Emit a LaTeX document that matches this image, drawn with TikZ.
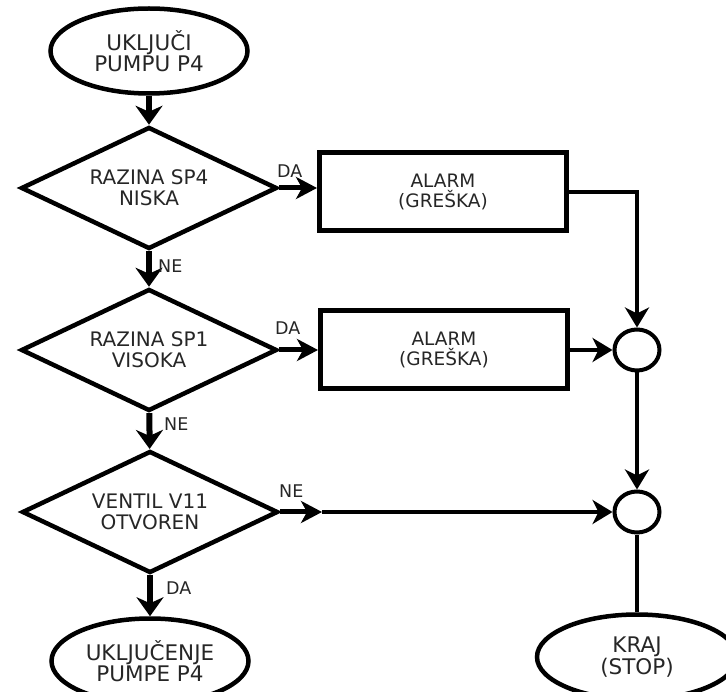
\documentclass[tikz,border=0pt]{standalone}
\usepackage{fontspec}
\setmainfont{DejaVu Sans}
\usetikzlibrary{shapes.geometric,arrows.meta}
\begin{document}
\begin{tikzpicture}[x=1pt,y=-1pt,
  txt/.style={text=black!85, align=center},
  term/.style={ellipse, draw, line width=4.5pt, minimum width=197pt, minimum height=85pt, inner sep=0pt, txt, font=\fontsize{21.5}{20.5}\selectfont},
  dec/.style={diamond, aspect=2.1, draw, line width=4.5pt, minimum width=256pt, minimum height=122pt, inner sep=0pt, txt, font=\fontsize{20}{21}\selectfont},
  proc/.style={rectangle, draw, line width=5pt, minimum width=247pt, minimum height=78pt, inner sep=0pt, txt, font=\fontsize{18.5}{20}\selectfont},
  joint/.style={ellipse, draw, line width=4pt, minimum width=45pt, minimum height=41pt, inner sep=0pt},
  lab/.style={font=\fontsize{17.5}{19}\selectfont, text=black!85, inner sep=0pt},
  thk/.style={line width=6pt, -{Stealth[length=19pt,width=27pt,inset=6pt]}},
  thn/.style={line width=3.5pt, -{Stealth[length=20pt,width=24pt,inset=6pt]}},
  mid/.style={line width=5pt, -{Stealth[length=21pt,width=22pt,inset=6pt]}},
  pl/.style={line width=3.5pt}
]
\useasboundingbox (0,0) rectangle (726,692);
\node[term] (start) at (149,51) {UKLJUČI\\PUMPU P4};
\node[dec] (d1) at (149,188) {RAZINA SP4\\NISKA};
\node[dec] (d2) at (149,350) {RAZINA SP1\\VISOKA};
\node[dec] (d3) at (150,512) {VENTIL V11\\OTVOREN};
\node[term] (on) at (150,661) {UKLJUČENJE\\PUMPE P4};
\node[proc] (b1) at (443,192) {ALARM\\(GREŠKA)};
\node[proc] (b2) at (444,350) {ALARM\\(GREŠKA)};
\node[joint] (c1) at (637,350) {};
\node[joint] (c2) at (637,512) {};
\node[term, minimum width=200pt] (end) at (637,657) {KRAJ\\(STOP)};
\coordinate (m) at (322,512);

\draw[thk] (start) -- (d1);
\draw[thk] (d1) -- (d2);
\draw[thk] (d2) -- (d3);
\draw[thk] (d3) -- (on);
\draw[mid] (d1.east) -- (b1.west |- d1.east);
\draw[mid] (d2.east) -- (b2.west |- d2.east);
\draw[mid] (d3.east) -- (m);
\draw[thn] (m) -- (c2.west);
\draw[thn] (b1.east) -| (c1.north);
\draw[thn] (b2.east |- c1.west) -- (c1.west);
\draw[thn] (c1.south) -- (c2.north);
\draw[pl] (c2.south) -- (end.north);

\node[lab, anchor=west] (l1) at (158,266) {NE};
\node[lab, anchor=west] (l2) at (164,424) {NE};
\node[lab, anchor=west] (l3) at (166,588) {DA};
\node[lab, anchor=west] (l4) at (277,171) {DA};
\node[lab, anchor=west] (l5) at (275,328) {DA};
\node[lab, anchor=west] (l6) at (279,491) {NE};
\end{tikzpicture}
\end{document}
